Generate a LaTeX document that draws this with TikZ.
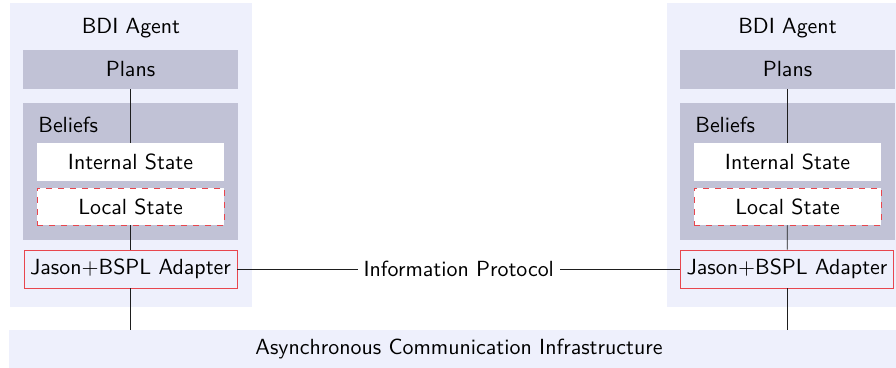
\documentclass[tikz,border=0pt]{standalone}
\definecolor{agentbg}{RGB}{238,240,252}
\definecolor{compbg}{RGB}{193,194,214}
\definecolor{redline}{RGB}{232,70,78}
\definecolor{lineclr}{RGB}{30,30,30}
\begin{document}
\begin{tikzpicture}[x=0.5pt,y=-0.5pt,font=\sffamily\fontsize{10.95}{13}\selectfont,
  agentbox/.style={fill=agentbg,draw=none,minimum width=121pt,minimum height=152pt,inner sep=0},
  compbox/.style={fill=compbg,draw=none,minimum width=107.5pt,inner sep=0},
  statebox/.style={fill=white,minimum width=93.5pt,inner sep=0},
  adapterbox/.style={fill=agentbg,draw=redline,line width=0.4pt,minimum width=106.5pt,minimum height=19pt,inner sep=0},
  conn/.style={draw=lineclr,line width=0.4pt}]
\useasboundingbox (0,0) rectangle (896,368);
\clip (0,0) rectangle (896,368);
% infrastructure
\node[fill=agentbg,minimum width=450pt,minimum height=19pt,inner sep=0] (infra) at (459,349) {Asynchronous Communication Infrastructure};
% left agent
\node[agentbox] (agentL) at (131,155) {};
\node (titleL) at (131,28) {BDI Agent};
\node[compbox,minimum height=19.5pt] (plansL) at (130.5,69.5) {Plans};
\node[compbox,minimum height=68.5pt] (beliefsL) at (130.5,171.5) {};
\node[anchor=base west,inner sep=0] (blabelL) at (38,133) {Beliefs};
\node[statebox,minimum height=19pt] (internalL) at (130.5,162) {Internal State};
\node[statebox,minimum height=18.5pt,draw=redline,dashed,line width=0.4pt] (localL) at (130.5,206.5) {Local State};
\node[adapterbox] (adapterL) at (130.5,269) {Jason+BSPL Adapter};
% right agent
\node[agentbox] (agentR) at (788,155) {};
\node (titleR) at (787.5,28) {BDI Agent};
\node[compbox,minimum height=19.5pt] (plansR) at (787.5,69.5) {Plans};
\node[compbox,minimum height=68.5pt] (beliefsR) at (787.5,171.5) {};
\node[anchor=base west,inner sep=0] (blabelR) at (695,133) {Beliefs};
\node[statebox,minimum height=19pt] (internalR) at (787.5,162) {Internal State};
\node[statebox,minimum height=18.5pt,draw=redline,dashed,line width=0.4pt] (localR) at (787.5,206.5) {Local State};
\node[adapterbox] (adapterR) at (787,269) {Jason+BSPL Adapter};
% connectors
\draw[conn] (plansL) -- (internalL);
\draw[conn] (localL) -- (adapterL);
\draw[conn] (adapterL.south) -- (adapterL.south |- infra.north);
\draw[conn] (plansR) -- (internalR);
\draw[conn] (localR) -- (adapterR);
\draw[conn] (adapterR.south) -- (adapterR.south |- infra.north);
\draw[conn] (adapterL) -- node[fill=white,inner sep=3pt] (proto) {Information Protocol} (adapterR);
\end{tikzpicture}
\end{document}
